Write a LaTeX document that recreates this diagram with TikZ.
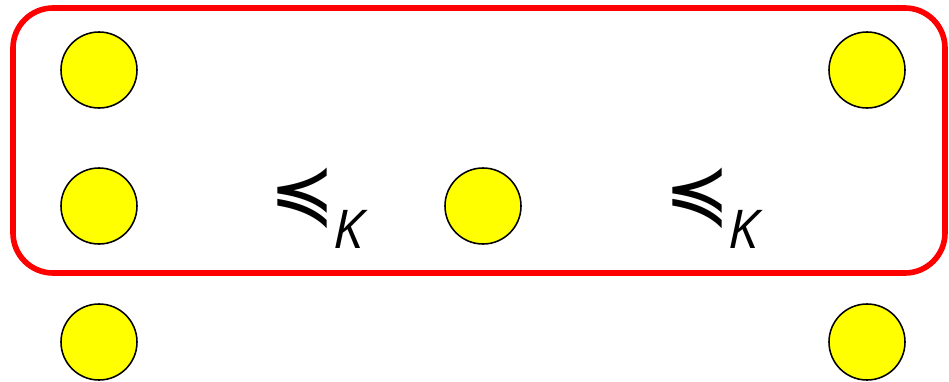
\documentclass[tikz,border=0pt]{standalone}
\usepackage{fontspec}
\setsansfont{DejaVu Sans}
\newfontfamily\subfont{Open Sans}
\usetikzlibrary{positioning}
\definecolor{ptfill}{RGB}{255,255,0}
\definecolor{grpred}{RGB}{255,0,0}
\newcommand{\relK}{≼\kern-1pt\raisebox{-20pt}{\subfont\itshape\fontsize{38}{44}\selectfont K}}

\begin{document}
\begin{tikzpicture}[x=0.025cm, y=-0.025cm,
     pt/.style={circle, draw=black, line width=1.1pt, fill=ptfill, minimum size=1.9cm, inner sep=0pt},
     rel/.style={inner sep=0pt, anchor=base west, font=\sffamily\fontsize{56}{64}\selectfont},
     grp/.style={draw=grpred, line width=4pt, rounded corners=1cm}]
   \useasboundingbox (0,0) rectangle (949,382);
   \draw[grp] (13,8) rectangle (945,273);
   \node[pt] (a1) at (99,70) {};
   \node[pt] (a2) at (99,206) {};
   \node[pt] (a3) at (99,342) {};
   \node[pt] (m)  at (483,206) {};
   \node[pt] (b1) at (867,70) {};
   \node[pt] (b3) at (867,342) {};
   \node[rel] (r1) at (269,220) {\relK};
   \node[rel] (r2) at (664,220) {\relK};
  \end{tikzpicture}
\end{document}
